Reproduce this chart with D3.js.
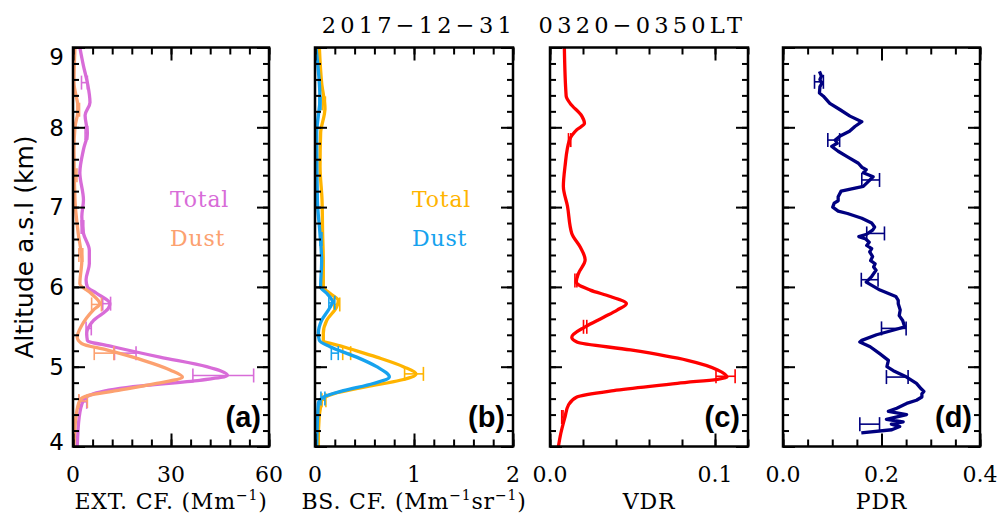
<!DOCTYPE html>
<html>
<head>
<meta charset="utf-8">
<script src="https://cdn.jsdelivr.net/npm/d3@7"></script>
<style>
  body { margin: 0; background: #fff; }
  svg { display: block; }
  text { white-space: pre; }
</style>
</head>
<body>
<svg id="chart" width="1000" height="521"></svg>
<script>
// profile data: [altitude (km), value]
var extTotal = [[9.0,2.1],[8.77,3.2],[8.56,4.4],[8.31,5.2],[8.15,3.7],[7.93,4.4],[7.72,3.2],[7.43,2.1],[7.09,3.2],
    [6.88,2.7],[6.67,3.2],[6.46,5.0],[6.29,5.0],[6.09,4.0],[6.0,4.4],[5.92,7.2],[5.79,11.3],[5.73,10.8],[5.58,6.3],
    [5.42,4.2],[5.33,4.4],[5.25,12.3],[5.12,26.6],[5.0,40.9],[4.89,47.3],[4.83,38.8],[4.75,18.4],[4.66,6.2],
    [4.58,3.2],[4.37,1.9],[4.0,1.3]];
var extDust = [[9.0,0.6],[8.56,0.3],[8.23,1.6],[8.0,0.6],[7.72,0.3],[7.09,0.6],[6.67,1.6],[6.33,2.7],[6.04,2.1],
    [5.92,5.5],[5.79,8.2],[5.71,6.2],[5.52,2.7],[5.37,1.3],[5.29,2.7],[5.21,10.3],[5.08,21.5],[4.96,29.7],
    [4.87,33.5],[4.79,25.6],[4.70,13.3],[4.64,4.7],[4.58,2.1],[4.37,0.9],[4.0,0.3]];
var bsTotal = [[9.0,0.044],[8.56,0.067],[8.23,0.10],[7.93,0.057],[7.51,0.051],[7.09,0.071],[6.67,0.077],[6.33,0.084],
    [6.0,0.084],[5.92,0.15],[5.83,0.235],[5.75,0.219],[5.58,0.118],[5.42,0.084],[5.33,0.084],[5.25,0.286],
    [5.12,0.623],[5.0,0.892],[4.91,1.02],[4.83,0.859],[4.75,0.522],[4.66,0.185],[4.58,0.067],[4.18,0.034],[4.0,0.034]];
var bsDust = [[9.0,0.01],[8.35,0.05],[8.15,0.034],[7.93,0.017],[7.09,0.024],[6.67,0.05],[6.33,0.067],[6.0,0.057],
    [5.92,0.118],[5.81,0.178],[5.73,0.145],[5.58,0.067],[5.42,0.034],[5.33,0.044],[5.25,0.152],[5.12,0.421],
    [5.0,0.623],[4.87,0.751],[4.79,0.589],[4.70,0.286],[4.62,0.084],[4.54,0.034],[4.0,0.017]];
var vdr = [[9.0,0.0087],[8.39,0.0098],[8.30,0.0122],[8.14,0.0193],[8.05,0.0209],[7.97,0.0163],[7.84,0.0118],
    [7.51,0.0091],[7.26,0.0081],[7.01,0.0106],[6.67,0.0132],[6.50,0.0183],[6.34,0.0213],[6.17,0.0173],[6.06,0.0159],
    [5.96,0.0244],[5.88,0.0366],[5.79,0.0463],[5.71,0.0407],[5.62,0.0325],[5.50,0.0213],[5.37,0.0132],[5.31,0.0163],
    [5.21,0.0488],[5.08,0.0833],[4.96,0.1016],[4.87,0.1073],[4.79,0.0772],[4.70,0.0386],[4.62,0.0163],[4.52,0.0112],
    [4.37,0.0091],[4.16,0.0065],[4.0,0.0051]];
var pdr = [[8.70,0.074],[8.64,0.078],[8.60,0.075],[8.55,0.079],[8.51,0.075],[8.43,0.074],[8.39,0.082],[8.30,0.095],
    [8.22,0.116],[8.14,0.136],[8.07,0.160],[8.01,0.146],[7.95,0.135],[7.89,0.116],[7.84,0.106],[7.80,0.110],
    [7.76,0.099],[7.70,0.112],[7.63,0.131],[7.55,0.153],[7.50,0.160],[7.47,0.169],[7.43,0.163],[7.38,0.183],
    [7.32,0.173],[7.26,0.163],[7.20,0.118],[7.13,0.112],[7.08,0.112],[7.05,0.104],[7.00,0.101],[6.95,0.112],
    [6.92,0.131],[6.86,0.160],[6.80,0.180],[6.75,0.186],[6.71,0.182],[6.66,0.170],[6.63,0.154],[6.60,0.168],
    [6.56,0.175],[6.52,0.170],[6.48,0.180],[6.44,0.176],[6.38,0.182],[6.33,0.178],[6.29,0.187],[6.25,0.184],
    [6.21,0.189],[6.13,0.180],[6.06,0.169],[5.96,0.197],[5.88,0.229],[5.83,0.234],[5.79,0.234],[5.71,0.238],
    [5.64,0.236],[5.58,0.243],[5.50,0.247],[5.46,0.225],[5.40,0.190],[5.33,0.160],[5.31,0.156],[5.25,0.177],
    [5.16,0.197],[5.08,0.214],[5.00,0.211],[4.95,0.224],[4.87,0.251],[4.79,0.271],[4.72,0.281],[4.69,0.286],
    [4.66,0.282],[4.62,0.282],[4.58,0.271],[4.54,0.251],[4.48,0.231],[4.44,0.214],[4.40,0.251],[4.34,0.210],
    [4.31,0.244],[4.28,0.220],[4.25,0.237],[4.21,0.221],[4.17,0.159]];

// error bars: [altitude, value, error]
var extTotalErr = [[8.56,3.5,0.9],[7.93,4.1,0.4],[6.75,2.9,0.4],[5.79,10.3,1.2],[5.48,4.8,0.8],[5.17,16.0,3.3],[4.89,46.0,9.3],[4.56,3.0,1.2]];
var extDustErr = [[8.22,1.6,0.4],[7.4,0.9,0.3],[6.4,2.4,0.6],[5.78,7.2,1.5],[5.17,9.5,3.0],[4.57,3.1,1.3]];
var bsTotalErr = [[8.3,0.09,0.015],[5.78,0.22,0.03],[5.17,0.32,0.04],[4.91,1.0,0.095],[4.58,0.09,0.02]];
var bsDustErr = [[8.3,0.05,0.01],[6.6,0.06,0.01],[5.8,0.17,0.03],[5.17,0.2,0.035],[4.6,0.08,0.02]];
var vdrErr = [[7.84,0.0119,0.0007],[6.08,0.0157,0.0006],[5.50,0.0213,0.001],[4.88,0.1064,0.0058],[4.37,0.0075,0.0004]];
var pdrErr = [[8.57,0.073,0.009],[7.84,0.103,0.012],[7.34,0.178,0.018],[6.67,0.188,0.018],[6.09,0.176,0.017],
    [5.48,0.225,0.025],[4.87,0.232,0.022],[4.28,0.176,0.02]];

var altTicks = [4, 5, 6, 7, 8, 9];
var altMinor = d3.range(4, 9.01, 0.2);
var titleText = "2017\u221212\u221231  0320\u22120350LT";
var yTitle = "Altitude a.s.l (km)";

var svg = d3.select("#chart");
var plotTop = 47.5, plotBottom = 446.5;
var y = d3.scaleLinear().domain([4, 9]).range([plotBottom, plotTop]);
var serif = "DejaVu Serif";
var sans = "DejaVu Sans";

var panels = [
    { tag: "(a)", left: 73, right: 269, domain: [0, 60], minor: d3.range(0, 60.1, 6), major: [0, 30, 60],
      fmt: d => d, xtitle: [["EXT. CF. (Mm"], ["\u22121", 1], [")"]], line: d3.curveMonotoneY,
      series: [{ data: extTotal, err: extTotalErr, color: "#d86cd8", name: "Total" },
               { data: extDust, err: extDustErr, color: "#fca170", name: "Dust" }] },
    { tag: "(b)", left: 315, right: 513, domain: [0, 2], minor: d3.range(0, 2.01, 0.2), major: [0, 1, 2],
      fmt: d => d, xtitle: [["BS. CF. (Mm"], ["\u22121", 1], ["sr"], ["\u22121", 1], [")"]], line: d3.curveMonotoneY,
      series: [{ data: bsTotal, err: bsTotalErr, color: "#ffb400", name: "Total" },
               { data: bsDust, err: bsDustErr, color: "#16a2ee", name: "Dust" }] },
    { tag: "(c)", left: 550, right: 748, domain: [0, 0.12], minor: d3.range(0, 0.121, 0.02), major: [0, 0.1],
      fmt: d3.format(".1f"), xtitle: [["VDR"]], line: d3.curveMonotoneY,
      series: [{ data: vdr, err: vdrErr, color: "#ff0000" }] },
    { tag: "(d)", left: 783, right: 980, domain: [0, 0.4], minor: d3.range(0, 0.401, 0.05), major: [0, 0.2, 0.4],
      fmt: d3.format(".1f"), xtitle: [["PDR"]], line: d3.curveLinear,
      series: [{ data: pdr, err: pdrErr, color: "#000080" }] }
];

// title
svg.append("text")
    .attr("x", 534).attr("y", 33)
    .attr("text-anchor", "middle")
    .attr("font-family", serif).attr("font-size", 22.5)
    .attr("letter-spacing", 4.2)
    .text(titleText);

// y title
svg.append("text")
    .attr("transform", "translate(33," + (plotTop + plotBottom) / 2 + ") rotate(-90)")
    .attr("text-anchor", "middle")
    .attr("font-family", sans).attr("font-size", 25)
    .text(yTitle);

function tickAxis(g, axis, values, size) {
    g.call(axis.tickValues(values).tickSize(size).tickFormat(""));
    g.select(".domain").remove();
    g.selectAll(".tick line").attr("stroke", "#000").attr("stroke-width", 2);
}

panels.forEach(function(p, pi) {
    var x = d3.scaleLinear().domain(p.domain).range([p.left, p.right]);
    var g = svg.append("g");
    var H = plotBottom - plotTop, W = p.right - p.left;

    // plot data
    p.series.forEach(function(s) {
        var line = d3.line().x(d => x(d[1])).y(d => y(d[0])).curve(p.line);
        g.append("path")
            .datum(s.data)
            .attr("d", line)
            .attr("fill", "none")
            .attr("stroke", s.color)
            .attr("stroke-width", 3.3)
            .attr("stroke-linejoin", "round");

        var eb = g.append("g").attr("stroke", s.color).attr("stroke-width", 1.6).attr("fill", "none");
        eb.selectAll("line.h").data(s.err).enter().append("line")
            .attr("x1", d => x(d[1] - d[2])).attr("x2", d => x(d[1] + d[2]))
            .attr("y1", d => y(d[0])).attr("y2", d => y(d[0]));
        eb.selectAll("line.l").data(s.err).enter().append("line")
            .attr("x1", d => x(d[1] - d[2])).attr("x2", d => x(d[1] - d[2]))
            .attr("y1", d => y(d[0]) - 7).attr("y2", d => y(d[0]) + 7);
        eb.selectAll("line.r").data(s.err).enter().append("line")
            .attr("x1", d => x(d[1] + d[2])).attr("x2", d => x(d[1] + d[2]))
            .attr("y1", d => y(d[0]) - 7).attr("y2", d => y(d[0]) + 7);
    });

    // ticks, all pointing inward
    tickAxis(g.append("g").attr("transform", "translate(0," + plotBottom + ")"), d3.axisBottom(x), p.minor, -7);
    tickAxis(g.append("g").attr("transform", "translate(0," + plotBottom + ")"), d3.axisBottom(x), p.major, -13);
    tickAxis(g.append("g").attr("transform", "translate(0," + plotTop + ")"), d3.axisTop(x), p.minor, -7);
    tickAxis(g.append("g").attr("transform", "translate(0," + plotTop + ")"), d3.axisTop(x), p.major, -13);
    tickAxis(g.append("g").attr("transform", "translate(" + p.left + ",0)"), d3.axisLeft(y), altMinor, -6);
    tickAxis(g.append("g").attr("transform", "translate(" + p.left + ",0)"), d3.axisLeft(y), altTicks, -12);
    tickAxis(g.append("g").attr("transform", "translate(" + p.right + ",0)"), d3.axisRight(y), altMinor, -6);
    tickAxis(g.append("g").attr("transform", "translate(" + p.right + ",0)"), d3.axisRight(y), altTicks, -12);

    // frame
    g.append("rect")
        .attr("x", p.left).attr("y", plotTop).attr("width", W).attr("height", H)
        .attr("fill", "none").attr("stroke", "#000").attr("stroke-width", 2.5);

    // x tick labels
    g.selectAll("text.xt").data(p.major).enter().append("text")
        .attr("x", d => x(d)).attr("y", 482)
        .attr("text-anchor", "middle")
        .attr("font-family", serif).attr("font-size", 22)
        .text(p.fmt);

    // x title
    var t = g.append("text")
        .attr("x", (p.left + p.right) / 2).attr("y", 509)
        .attr("text-anchor", "middle")
        .attr("font-family", serif).attr("font-size", 22)
        .attr("letter-spacing", 0.8);
    p.xtitle.forEach(function(part, i) {
        var prevSup = i > 0 && p.xtitle[i - 1][1];
        var ts = t.append("tspan").text(part[0]);
        if (part[1]) ts.attr("dy", -9).attr("font-size", 14);
        else if (prevSup) ts.attr("dy", 9);
    });

    // panel tag
    g.append("text")
        .attr("x", p.right - 8).attr("y", 427)
        .attr("text-anchor", "end")
        .attr("font-family", "Liberation Sans").attr("font-weight", "bold").attr("font-size", 29)
        .text(p.tag);

    // legend words
    p.series.filter(s => s.name).forEach(function(s, i) {
        g.append("text")
            .attr("x", p.left + 97).attr("y", 207 + i * 39)
            .attr("font-family", serif).attr("font-size", 22)
            .attr("letter-spacing", 0.8)
            .attr("fill", s.color)
            .text(s.name);
    });

    // altitude labels only on the first panel, kept inside the frame
    if (pi === 0) {
        g.selectAll("text.yt").data(altTicks).enter().append("text")
            .attr("x", p.left - 9)
            .attr("y", d => Math.min(Math.max(y(d), plotTop + 9), plotBottom - 5))
            .attr("dy", "0.36em")
            .attr("text-anchor", "end")
            .attr("font-family", sans).attr("font-size", 23)
            .text(d => d);
    }
});
</script>
</body>
</html>
